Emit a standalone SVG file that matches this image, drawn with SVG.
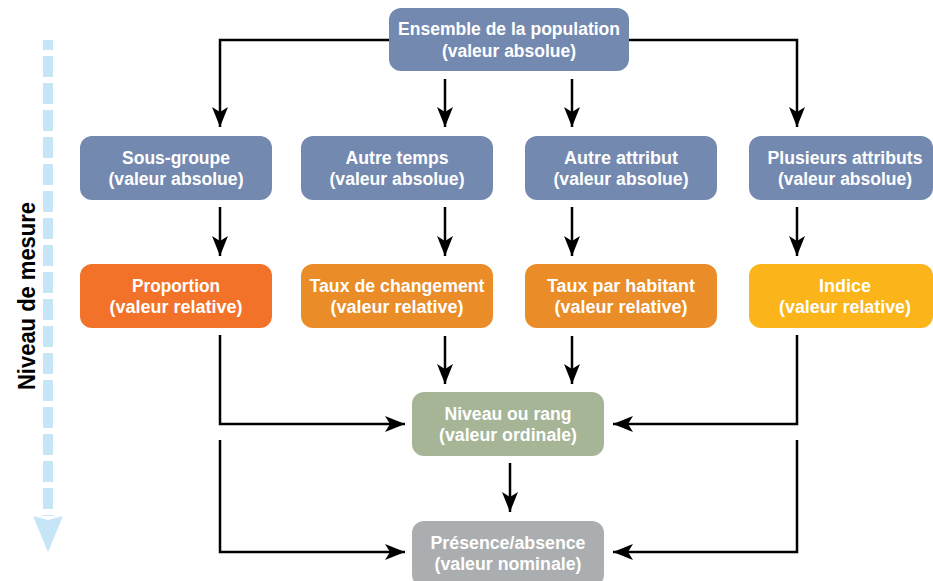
<svg xmlns="http://www.w3.org/2000/svg" width="933" height="581" viewBox="0 0 933 581">
<style>
.t{font-family:"Liberation Sans Narrow","Liberation Sans",Arial,sans-serif;font-weight:bold;font-size:18px;fill:#ffffff;text-anchor:middle}
.c{fill:none;stroke:#000;stroke-width:2.5;marker-end:url(#ah)}
.l{fill:none;stroke:#000;stroke-width:2.5}
.blue{fill:#7489b0}
.or1{fill:#f3722a}
.or2{fill:#ea8c28}
.yel{fill:#fbb41a}
.grn{fill:#a6b596}
.gry{fill:#abaeb0}
</style>
<defs>
<marker id="ah" markerUnits="userSpaceOnUse" markerWidth="20" markerHeight="16" refX="20" refY="8" orient="auto">
<path d="M0,0 L20,8 L0,16 L5,8 z" fill="#000"/>
</marker>
</defs>
<rect width="933" height="581" fill="#ffffff"/>

<g id="axis">
<line x1="48" y1="40" x2="48" y2="516" stroke="#c6e6f8" stroke-width="10" stroke-dasharray="21 6" stroke-dashoffset="11"/>
<path d="M33,516 L48,520 L63,516 L48,552 z" fill="#c6e6f8"/>
<text transform="translate(35,296) rotate(-90)" font-family="'Liberation Sans Narrow','Liberation Sans',Arial,sans-serif" font-weight="bold" font-size="23" text-anchor="middle" textLength="188" lengthAdjust="spacingAndGlyphs" fill="#000">Niveau de mesure</text>
</g>

<g id="connectors">
<path class="c" d="M389,40 H220 V127"/>
<path class="c" d="M629,40 H797 V127"/>
<path class="c" d="M445,79 V127"/>
<path class="c" d="M572,79 V127"/>
<path class="c" d="M220,207 V256"/>
<path class="c" d="M445,207 V256"/>
<path class="c" d="M572,207 V256"/>
<path class="c" d="M797,207 V256"/>
<path class="c" d="M445,336 V384"/>
<path class="c" d="M572,336 V384"/>
<path class="c" d="M220,335 V424 H405"/>
<path class="c" d="M797,335 V424 H613"/>
<path class="c" d="M220,440 V552 H405"/>
<path class="c" d="M797,440 V552 H613"/>
<path class="c" d="M510,463 V512"/>
</g>

<g id="n-ensemble">
<rect class="blue" x="389" y="8" width="240" height="63" rx="12"/>
<text class="t" x="509" y="35" textLength="222" lengthAdjust="spacingAndGlyphs">Ensemble de la population</text>
<text class="t" x="509" y="57" textLength="134" lengthAdjust="spacingAndGlyphs">(valeur absolue)</text>
</g>

<g id="n-sousgroupe">
<rect class="blue" x="80" y="136" width="192" height="64" rx="12"/>
<text class="t" x="176" y="164" textLength="108" lengthAdjust="spacingAndGlyphs">Sous-groupe</text>
<text class="t" x="176" y="185" textLength="135" lengthAdjust="spacingAndGlyphs">(valeur absolue)</text>
</g>

<g id="n-autretemps">
<rect class="blue" x="301" y="136" width="192" height="64" rx="12"/>
<text class="t" x="397" y="164" textLength="103" lengthAdjust="spacingAndGlyphs">Autre temps</text>
<text class="t" x="397" y="185" textLength="135" lengthAdjust="spacingAndGlyphs">(valeur absolue)</text>
</g>

<g id="n-autreattribut">
<rect class="blue" x="525" y="136" width="192" height="64" rx="12"/>
<text class="t" x="621" y="164" textLength="114" lengthAdjust="spacingAndGlyphs">Autre attribut</text>
<text class="t" x="621" y="185" textLength="135" lengthAdjust="spacingAndGlyphs">(valeur absolue)</text>
</g>

<g id="n-plusieurs">
<rect class="blue" x="749" y="136" width="184" height="64" rx="12"/>
<text class="t" x="845" y="164" textLength="155" lengthAdjust="spacingAndGlyphs">Plusieurs attributs</text>
<text class="t" x="845" y="185" textLength="134" lengthAdjust="spacingAndGlyphs">(valeur absolue)</text>
</g>

<g id="n-proportion">
<rect class="or1" x="80" y="264" width="192" height="64" rx="12"/>
<text class="t" x="176" y="292" textLength="88" lengthAdjust="spacingAndGlyphs">Proportion</text>
<text class="t" x="176" y="313" textLength="133" lengthAdjust="spacingAndGlyphs">(valeur relative)</text>
</g>

<g id="n-tauxchangement">
<rect class="or2" x="301" y="264" width="192" height="64" rx="12"/>
<text class="t" x="397" y="292" textLength="175" lengthAdjust="spacingAndGlyphs">Taux de changement</text>
<text class="t" x="397" y="313" textLength="133" lengthAdjust="spacingAndGlyphs">(valeur relative)</text>
</g>

<g id="n-tauxhabitant">
<rect class="or2" x="525" y="264" width="192" height="64" rx="12"/>
<text class="t" x="621" y="292" textLength="148" lengthAdjust="spacingAndGlyphs">Taux par habitant</text>
<text class="t" x="621" y="313" textLength="133" lengthAdjust="spacingAndGlyphs">(valeur relative)</text>
</g>

<g id="n-indice">
<rect class="yel" x="749" y="264" width="184" height="64" rx="12"/>
<text class="t" x="845" y="292" textLength="52" lengthAdjust="spacingAndGlyphs">Indice</text>
<text class="t" x="845" y="313" textLength="132" lengthAdjust="spacingAndGlyphs">(valeur relative)</text>
</g>

<g id="n-niveau">
<rect class="grn" x="412" y="392" width="192" height="64" rx="12"/>
<text class="t" x="508" y="420" textLength="127" lengthAdjust="spacingAndGlyphs">Niveau ou rang</text>
<text class="t" x="508" y="441" textLength="138" lengthAdjust="spacingAndGlyphs">(valeur ordinale)</text>
</g>

<g id="n-presence">
<rect class="gry" x="412" y="521" width="192" height="66" rx="12"/>
<text class="t" x="508" y="549" textLength="155" lengthAdjust="spacingAndGlyphs">Présence/absence</text>
<text class="t" x="508" y="570" textLength="147" lengthAdjust="spacingAndGlyphs">(valeur nominale)</text>
</g>
</svg>
